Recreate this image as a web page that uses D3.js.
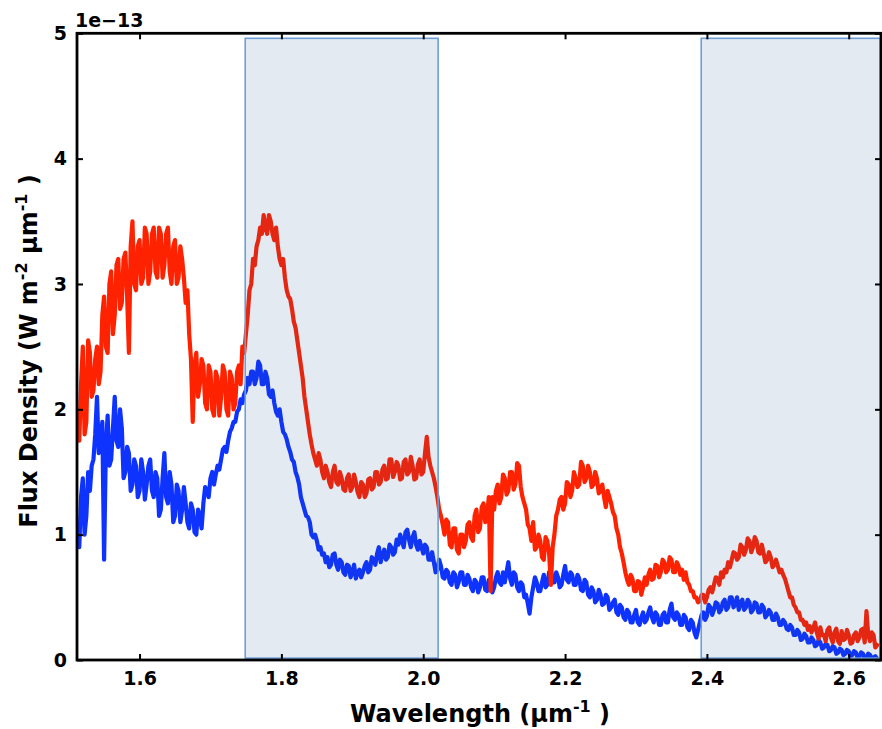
<!DOCTYPE html>
<html><head><meta charset="utf-8">
<script src="https://cdn.jsdelivr.net/npm/d3@7"></script>
<style>body{margin:0;background:#fff}svg{display:block}text{font-family:"DejaVu Sans";font-weight:bold;fill:#000}</style>
</head><body><svg id="c" width="882" height="729"></svg>
<script>
// wavelength grid (micron^-1) and flux density (units of 1e-13 W m^-2 um^-1)
const wlStart = 1.515, wlStep = 0.0025;
const redFlux = [
 1.75,2.2,2.5,1.8,1.9,2.55,2.45,2.1,2.15,2.4,2.5,2.2,2.3,2.75,2.9,2.5,2.45,3.0,3.1,2.6,
 2.75,3.15,3.2,2.8,2.85,3.2,3.25,2.9,2.45,3.3,3.5,3.0,2.95,3.3,3.35,3.0,3.05,3.45,3.4,3.0,
 3.1,3.4,3.45,3.1,3.05,3.45,3.4,3.05,3.15,3.4,3.45,3.1,3.0,3.3,3.35,3.0,3.05,3.3,3.2,3.05,
 2.85,2.95,2.6,2.4,1.9,2.35,2.45,2.1,2.2,2.4,2.35,2.05,2.0,2.35,2.3,2.0,1.95,2.3,2.25,1.95,
 2.1,2.35,2.3,2.0,1.95,2.3,2.25,2.0,2.05,2.3,2.35,2.2,2.5,2.45,2.6,2.75,2.95,3.0,3.2,3.15,
 3.3,3.35,3.45,3.4,3.55,3.45,3.4,3.55,3.5,3.4,3.35,3.45,3.3,3.2,3.15,3.2,3.05,2.95,2.9,2.88,
 2.8,2.7,2.65,2.55,2.45,2.35,2.25,2.1,2.0,1.9,1.8,1.72,1.65,1.6,1.55,1.65,1.6,1.5,1.45,1.55,
 1.5,1.42,1.38,1.5,1.55,1.42,1.4,1.5,1.45,1.36,1.35,1.45,1.48,1.35,1.38,1.48,1.42,1.34,1.3,1.42,
 1.4,1.3,1.33,1.44,1.45,1.36,1.38,1.5,1.5,1.4,1.42,1.52,1.55,1.44,1.45,1.6,1.6,1.46,1.5,1.58,
 1.55,1.44,1.45,1.58,1.6,1.48,1.5,1.62,1.55,1.44,1.45,1.56,1.6,1.48,1.5,1.65,1.78,1.62,1.55,1.5,
 1.45,1.38,1.3,1.2,1.15,1.08,1.0,1.12,1.1,0.92,0.9,1.05,1.05,0.88,0.85,1.0,1.0,0.9,0.95,1.08,
 1.1,0.98,0.95,1.15,1.2,1.02,1.05,1.22,1.25,1.1,1.15,1.3,0.55,1.3,1.2,1.35,1.4,1.25,1.3,1.48,
 1.45,1.32,1.35,1.5,1.5,1.36,1.4,1.57,1.55,1.38,1.3,1.25,1.2,1.08,1.05,0.95,1.1,0.88,0.9,1.0,
 0.95,0.82,0.8,0.98,0.95,0.85,0.6,0.9,1.0,1.15,1.2,1.28,1.3,1.2,1.25,1.42,1.4,1.3,1.35,1.5,
 1.45,1.38,1.4,1.58,1.55,1.42,1.45,1.55,1.5,1.38,1.4,1.5,1.45,1.33,1.35,1.4,1.3,1.22,1.35,1.3,
 1.25,1.18,1.15,1.05,1.0,0.9,0.85,0.78,0.7,0.64,0.6,0.68,0.65,0.55,0.55,0.63,0.62,0.52,0.58,0.66,
 0.6,0.68,0.72,0.64,0.65,0.76,0.75,0.66,0.7,0.8,0.78,0.7,0.72,0.82,0.8,0.7,0.7,0.78,0.75,0.68,
 0.72,0.64,0.7,0.62,0.6,0.55,0.55,0.5,0.5,0.46,0.47,0.52,0.52,0.46,0.5,0.56,0.58,0.54,0.6,0.66,
 0.65,0.6,0.7,0.66,0.72,0.7,0.78,0.74,0.8,0.86,0.85,0.8,0.82,0.92,0.9,0.84,0.88,0.97,0.95,0.86,
 0.9,0.98,0.95,0.86,0.85,0.92,0.85,0.78,0.8,0.86,0.82,0.74,0.76,0.8,0.75,0.7,0.72,0.68,0.65,0.6,
 0.55,0.5,0.5,0.44,0.42,0.38,0.38,0.32,0.32,0.28,0.3,0.24,0.27,0.22,0.25,0.3,0.22,0.17,0.26,0.2,
 0.2,0.15,0.24,0.26,0.18,0.14,0.22,0.25,0.15,0.13,0.23,0.16,0.17,0.24,0.2,0.13,0.14,0.2,0.22,0.15,
 0.18,0.24,0.25,0.14,0.39,0.2,0.15,0.22,0.2,0.1,0.12
];
const blueFlux = [
 0.9,1.3,1.45,1.0,1.15,1.5,1.35,1.55,1.6,1.8,2.1,1.65,1.7,1.9,0.8,1.7,1.95,1.55,1.6,1.85,
 2.1,1.75,1.7,2.0,1.85,1.45,1.5,1.7,1.65,1.35,1.4,1.6,1.55,1.3,1.35,1.6,1.5,1.28,1.4,1.55,
 1.6,1.35,1.3,1.5,1.45,1.15,1.2,1.45,1.65,1.3,1.25,1.5,1.4,1.1,1.15,1.4,1.35,1.1,1.2,1.38,
 1.25,1.1,1.05,1.25,1.2,1.02,1.0,1.2,1.15,1.05,1.25,1.38,1.35,1.3,1.45,1.5,1.4,1.48,1.55,1.52,
 1.6,1.68,1.7,1.66,1.75,1.82,1.85,1.9,1.9,1.98,2.0,2.08,2.05,2.12,2.15,2.25,2.2,2.3,2.3,2.2,
 2.25,2.38,2.35,2.2,2.2,2.3,2.25,2.12,2.1,2.15,2.05,1.98,1.95,2.0,1.9,1.82,1.8,1.76,1.7,1.66,
 1.6,1.58,1.5,1.46,1.4,1.3,1.25,1.2,1.15,1.14,1.1,1.0,0.98,1.0,0.95,0.88,0.9,0.84,0.85,0.78,
 0.82,0.74,0.76,0.84,0.85,0.76,0.72,0.8,0.78,0.7,0.68,0.76,0.75,0.66,0.7,0.76,0.65,0.7,0.72,0.66,
 0.7,0.75,0.78,0.7,0.72,0.82,0.8,0.76,0.85,0.9,0.78,0.84,0.88,0.8,0.82,0.92,0.9,0.84,0.86,0.96,
 0.92,1.0,0.95,0.9,1.02,1.04,0.96,0.9,0.98,1.02,0.92,0.88,0.95,0.9,0.85,0.92,0.9,0.8,0.8,0.86,
 0.78,0.7,0.72,0.8,0.75,0.66,0.65,0.72,0.7,0.62,0.6,0.7,0.68,0.58,0.62,0.7,0.7,0.6,0.6,0.68,
 0.65,0.58,0.55,0.64,0.62,0.54,0.58,0.66,0.66,0.56,0.55,0.64,0.62,0.54,0.58,0.66,0.7,0.62,0.6,0.7,
 0.62,0.7,0.78,0.65,0.6,0.7,0.68,0.58,0.55,0.62,0.6,0.5,0.52,0.45,0.37,0.5,0.58,0.66,0.62,0.55,
 0.55,0.62,0.68,0.58,0.6,0.7,0.72,0.62,0.62,0.7,0.66,0.58,0.6,0.68,0.75,0.64,0.62,0.7,0.68,0.6,
 0.6,0.68,0.65,0.56,0.55,0.64,0.62,0.52,0.5,0.58,0.55,0.46,0.48,0.56,0.52,0.44,0.45,0.52,0.5,0.4,
 0.42,0.46,0.48,0.38,0.36,0.44,0.42,0.34,0.32,0.4,0.38,0.3,0.3,0.36,0.4,0.3,0.28,0.34,0.38,0.3,
 0.32,0.38,0.42,0.34,0.3,0.38,0.36,0.28,0.28,0.36,0.38,0.3,0.3,0.4,0.45,0.34,0.32,0.38,0.36,0.28,
 0.28,0.36,0.34,0.26,0.24,0.32,0.3,0.22,0.18,0.24,0.3,0.36,0.38,0.32,0.35,0.44,0.42,0.36,0.4,0.46,
 0.45,0.38,0.4,0.46,0.48,0.4,0.42,0.5,0.5,0.42,0.44,0.5,0.4,0.46,0.48,0.4,0.42,0.48,0.46,0.38,
 0.4,0.46,0.45,0.38,0.38,0.44,0.42,0.34,0.36,0.4,0.38,0.32,0.32,0.37,0.34,0.28,0.28,0.32,0.3,0.25,
 0.24,0.28,0.26,0.2,0.2,0.24,0.22,0.16,0.17,0.21,0.19,0.14,0.14,0.18,0.16,0.11,0.12,0.16,0.14,0.09,
 0.1,0.13,0.12,0.07,0.08,0.11,0.1,0.05,0.06,0.09,0.08,0.04,0.05,0.08,0.07,0.03,0.04,0.07,0.06,0.02,
 0.03,0.06,0.05,0.01,0.02,0.05,0.04,0.01,0.02,0.03,0.01
];
const xTicks = [1.6, 1.8, 2.0, 2.2, 2.4, 2.6];
const yTicks = [0, 1, 2, 3, 4, 5];
const spanStart = [1.749, 2.392];
const spanEnd = [2.021, 2.6445];
const spanLow = 0.015, spanHigh = 4.96;
const xDomain = [1.5118, 2.6455];
const yDomain = [0, 5];
const offsetText = "1e\u221213";

const L = 77, R = 881, T = 33.3, B = 660;
const svg = d3.select("#c");
const x = d3.scaleLinear().domain(xDomain).range([L, R]);
const y = d3.scaleLinear().domain(yDomain).range([B, T]);

svg.append("defs").append("clipPath").attr("id", "clip")
  .append("rect").attr("x", L).attr("y", T).attr("width", R - L).attr("height", B - T);

const line = d3.line().x((d, i) => x(wlStart + i * wlStep)).y(d => y(d));
const g = svg.append("g").attr("clip-path", "url(#clip)");
g.append("path").datum(blueFlux).attr("d", line).attr("fill", "none")
  .attr("stroke", "#0f33ff").attr("stroke-width", 4.2).attr("stroke-linejoin", "round").attr("stroke-linecap", "round");
g.append("path").datum(redFlux).attr("d", line).attr("fill", "none")
  .attr("stroke", "#ff2200").attr("stroke-width", 4.2).attr("stroke-linejoin", "round").attr("stroke-linecap", "round");

// shaded spans on top
spanStart.forEach((s, i) => {
  svg.append("rect")
    .attr("x", x(s)).attr("y", y(spanHigh))
    .attr("width", x(spanEnd[i]) - x(s)).attr("height", y(spanLow) - y(spanHigh))
    .attr("fill", "rgb(30,80,145)").attr("fill-opacity", 0.12)
    .attr("stroke", "#6b9fd6").attr("stroke-width", 1.6);
});

// axes
const ax = svg.append("g");
const xb = d3.axisBottom(x).tickValues(xTicks).tickSizeInner(-6).tickSizeOuter(0).tickPadding(12).tickFormat(d3.format(".1f"));
const xt = d3.axisTop(x).tickValues(xTicks).tickSizeInner(-6).tickSizeOuter(0).tickFormat("");
const yl = d3.axisLeft(y).tickValues(yTicks).tickSizeInner(-6).tickSizeOuter(0).tickPadding(10).tickFormat(d3.format("d"));
const yr = d3.axisRight(y).tickValues(yTicks).tickSizeInner(-6).tickSizeOuter(0).tickFormat("");
const gb = ax.append("g").attr("transform", `translate(0,${B})`).call(xb);
const gt = ax.append("g").attr("transform", `translate(0,${T})`).call(xt);
const gl = ax.append("g").attr("transform", `translate(${L},0)`).call(yl);
const gr = ax.append("g").attr("transform", `translate(${R},0)`).call(yr);
[gb, gt, gl, gr].forEach(a => {
  a.select(".domain").remove();
  a.selectAll(".tick line").attr("stroke", "#000").attr("stroke-width", 2);
  a.selectAll(".tick text").style("font-family", "DejaVu Sans").style("font-weight", "bold").attr("font-size", 19).attr("fill", "#000");
});
gb.selectAll(".tick text").attr("dy", "0.71em");

ax.append("rect").attr("x", L).attr("y", T).attr("width", R - L).attr("height", B - T)
  .attr("fill", "none").attr("stroke", "#000").attr("stroke-width", 2.8);

svg.append("text").attr("x", L - 2).attr("y", 27).attr("font-size", 19).text(offsetText);

// x label
const xlab = svg.append("text").attr("x", 480).attr("y", 722).attr("text-anchor", "middle").attr("font-size", 24);
xlab.append("tspan").text("Wavelength (\u03bcm");
xlab.append("tspan").attr("dy", -10).attr("font-size", 16).text("-1");
xlab.append("tspan").attr("dy", 10).text(" )");

// y label
const ylab = svg.append("text").attr("transform", "translate(37,351) rotate(-90)").attr("text-anchor", "middle").attr("font-size", 24);
ylab.append("tspan").text("Flux Density (W m");
ylab.append("tspan").attr("dy", -10).attr("font-size", 16).text("-2");
ylab.append("tspan").attr("dy", 10).text(" \u03bcm");
ylab.append("tspan").attr("dy", -10).attr("font-size", 16).text("-1");
ylab.append("tspan").attr("dy", 10).text(" )");
</script></body></html>
